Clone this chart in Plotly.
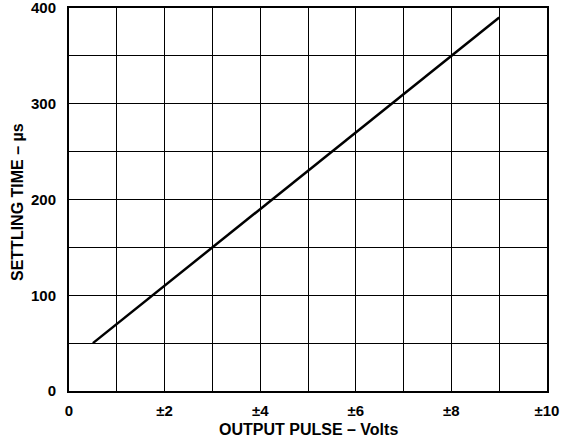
import plotly.graph_objects as go

output_pulse_v = [0.5, 9.0]
settling_time_us = [50, 390]

x_tick_vals = [0, 1, 2, 3, 4, 5, 6, 7, 8, 9, 10]
x_tick_text = ["0", "", "±2", "", "±4", "", "±6", "", "±8", "", "±10"]
y_tick_vals = [0, 50, 100, 150, 200, 250, 300, 350, 400]
y_tick_text = ["0", "", "100", "", "200", "", "300", "", "400"]

W, H = 561, 438
L, R, T, B = 69, 14, 8, 47

fig = go.Figure()
fig.add_trace(go.Scatter(x=output_pulse_v, y=settling_time_us, mode="lines",
                         line=dict(color="black", width=2.5), showlegend=False))

tf = dict(size=15, family="Liberation Sans, Arial, sans-serif", color="black", weight="bold")
fig.update_layout(
    width=W, height=H,
    margin=dict(l=L, r=R, t=T, b=B, autoexpand=False),
    paper_bgcolor="white", plot_bgcolor="white",
    font=dict(family="Liberation Sans, Arial, sans-serif", color="black"),
    xaxis=dict(range=[0, 10], tickvals=x_tick_vals, ticktext=x_tick_text,
               showgrid=True, gridcolor="black", gridwidth=1,
               showline=True, linecolor="black", linewidth=2, mirror=True,
               ticks="", ticklabelstandoff=5, zeroline=False, automargin=False,
               ticklabeloverflow="allow", tickfont=tf),
    yaxis=dict(range=[0, 400], tickvals=y_tick_vals, ticktext=y_tick_text,
               showgrid=True, gridcolor="black", gridwidth=1,
               showline=True, linecolor="black", linewidth=2, mirror=True,
               ticks="", ticklabelstandoff=8, zeroline=False, automargin=False,
               ticklabeloverflow="allow", tickfont=tf),
)

title_font = dict(size=16, family="Liberation Sans, Arial, sans-serif", color="black", weight="bold")
fig.add_annotation(text="OUTPUT PULSE – Volts", xref="paper", yref="paper",
                   x=0.5, y=-(429 - (H - B)) / (H - T - B), xanchor="center", yanchor="middle",
                   showarrow=False, font=title_font)
fig.add_annotation(text="SETTLING TIME – µs", xref="paper", yref="paper",
                   x=-(L - 17) / (W - L - R), y=1 - (202 - T) / (H - T - B),
                   xanchor="center", yanchor="middle", textangle=-90,
                   showarrow=False, font=title_font)

fig.write_html("out.html", config={"displayModeBar": False},
               post_script="document.body.style.margin='0';document.body.style.padding='0';")
